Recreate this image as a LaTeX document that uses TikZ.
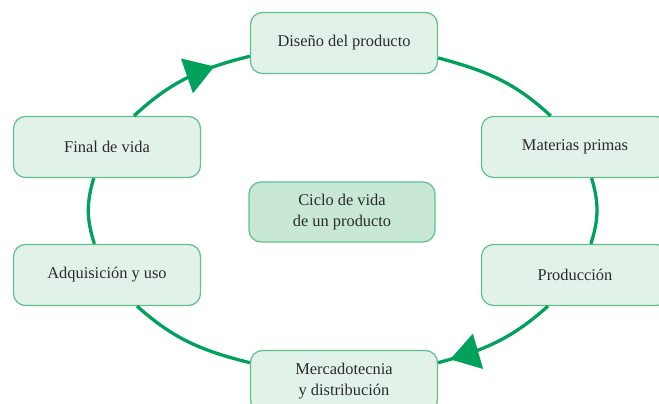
\documentclass[tikz,border=0pt]{standalone}
\usepackage{fontspec}
\setmainfont{Liberation Serif}
\usetikzlibrary{arrows.meta, decorations.markings}
\definecolor{cyclegreen}{HTML}{00A25B}
\definecolor{boxline}{HTML}{5CC08C}
\definecolor{boxfill}{HTML}{E2F2E8}
\definecolor{centrefill}{HTML}{C9E7D5}
\definecolor{textgrey}{HTML}{2B2B2B}

\begin{document}
\begin{tikzpicture}[x=1pt, y=1pt,
	stage/.style={rectangle, draw=boxline, fill=boxfill, line width=1.2pt, rounded corners=12pt, minimum width=187pt, minimum height=61pt, inner sep=0pt, align=center, text=textgrey, font=\fontsize{16.4}{21.5}\selectfont},
	cycleline/.style={cyclegreen, line width=3.3pt},
	midtip/.style={postaction={decorate}, decoration={markings, mark=at position #1 with {\arrow{Triangle[length=29pt, width=36pt]}}}}]
	\clip (0, 0) rectangle (659, 404);
	\node[stage] (diseno) at (344, 361) {Diseño del producto};
	\node[stage] (materias) at (575, 257) {Materias primas};
	\node[stage] (produccion) at (575, 129) {Producción};
	\node[stage] (mercado) at (344, 23) {Mercadotecnia\\y distribución};
	\node[stage] (adquisicion) at (107, 129) {Adquisición y uso};
	\node[stage] (final) at (107, 257) {Final de vida};
	\node[stage, minimum width=186pt, minimum height=60pt, fill=centrefill] (ciclo) at (342, 192) {Ciclo de vida\\de un producto};
	\draw[cycleline] (diseno.351) to[out=-15, in=137] (materias.128);
	\draw[cycleline] (materias.298) to[out=-73, in=72] (produccion.63);
	\draw[cycleline, midtip=0.9] (produccion.229) to[out=222, in=15] (mercado.11);
	\draw[cycleline] (mercado.169.5) to[out=166, in=318] (adquisicion.314);
	\draw[cycleline] (adquisicion.112) to[out=108, in=253] (final.247);
	\draw[cycleline, midtip=0.72] (final.49) to[out=43, in=194] (diseno.188);
\end{tikzpicture}
\end{document}
